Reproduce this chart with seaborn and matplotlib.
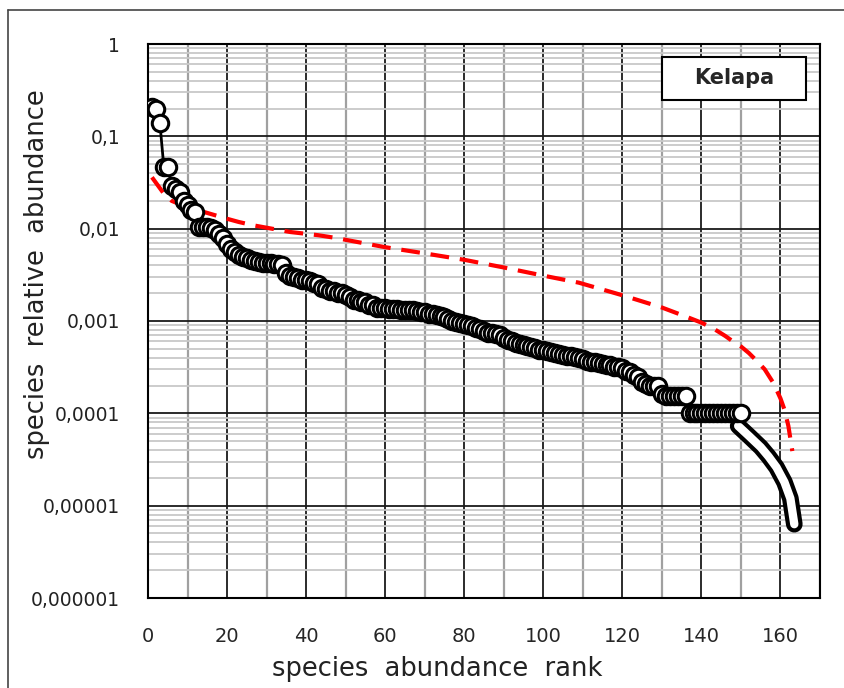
import numpy as np
import pandas as pd
import seaborn as sns
import matplotlib.pyplot as plt
from matplotlib.patches import Rectangle
from matplotlib.lines import Line2D
from matplotlib.ticker import LogLocator, MultipleLocator, NullFormatter

# observed rank-abundance (ranks 1..150)
rank = list(range(1, 151))
abundance = [
    0.21, 0.20, 0.14, 0.047, 0.046, 0.029, 0.027, 0.025, 0.020, 0.018,
    0.016, 0.015, 0.0105, 0.0104, 0.0103, 0.0101, 0.0097, 0.0088, 0.0079, 0.0068,
    0.0060, 0.0056, 0.0052, 0.0049, 0.0048, 0.0046, 0.0045, 0.0044, 0.0043, 0.0042,
    0.0042, 0.0041, 0.0041, 0.0040, 0.0033, 0.0031, 0.0030, 0.0029, 0.0028, 0.0028,
    0.0027, 0.0026, 0.0025, 0.0023, 0.0022, 0.0021, 0.0021, 0.0020, 0.0020, 0.0019,
    0.0018, 0.0017, 0.0017, 0.0016, 0.0016, 0.0015, 0.0015, 0.0014, 0.0014, 0.00138,
    0.00136, 0.00135, 0.00134, 0.00133, 0.00132, 0.00131, 0.0013, 0.00128, 0.00126, 0.00124,
    0.0012, 0.00118, 0.00116, 0.00112, 0.0011, 0.00104, 0.0010, 0.00097, 0.00095, 0.00093,
    0.0009, 0.00088, 0.00085, 0.00082, 0.00078, 0.00075, 0.00074, 0.00072, 0.0007, 0.00066,
    0.00063, 0.0006, 0.00058, 0.00056, 0.00055, 0.00054, 0.00052, 0.00051, 0.00049, 0.00048,
    0.00047, 0.00046, 0.00045, 0.00044, 0.00043, 0.00042, 0.00042, 0.00041, 0.0004, 0.00039,
    0.00037, 0.00036, 0.00036, 0.00035, 0.00034, 0.00033, 0.00033, 0.00032, 0.00032, 0.00031,
    0.00029, 0.00028, 0.00026, 0.00025, 0.00022, 0.00021, 0.0002, 0.0002, 0.0002, 0.00016,
    0.000155, 0.000155, 0.000155, 0.000155, 0.000155, 0.000155, 0.0001, 0.0001, 0.0001, 0.0001,
    0.0001, 0.0001, 0.0001, 0.0001, 0.0001, 0.0001, 0.0001, 0.0001, 0.0001, 0.0001,
]

# rare tail (drawn as a thick outlined line)
tail_rank = [149.3, 152, 155, 157, 159, 161, 162.5, 163.5]
tail_abund = [7.3e-5, 5.7e-5, 4.3e-5, 3.4e-5, 2.6e-5, 1.8e-5, 1.2e-5, 6.3e-6]

# broken-stick expectation (red dashed)
model_rank = [1, 4, 6, 10, 15, 20, 23, 27, 36, 43, 47, 60, 70, 80, 90, 100, 109,
              120, 130, 136, 140, 143, 146, 148, 150, 152, 154, 156, 158, 159,
              160, 161, 162, 163]
model_abund = [0.036, 0.024, 0.020, 0.017, 0.0148, 0.0128, 0.0118, 0.0108, 0.0092,
               0.0085, 0.0080, 0.0063, 0.0054, 0.0046, 0.0038, 0.0031, 0.0026,
               0.0019, 0.0014, 0.00112, 0.00096, 0.00083, 0.00069, 0.0006, 0.00053,
               0.00045, 0.00037, 0.0003, 0.00022, 0.00018, 0.000145, 0.00011,
               0.000073, 0.000039]

ytick_vals = [1e-6, 1e-5, 1e-4, 1e-3, 1e-2, 1e-1, 1]
ytick_labels = ["0,000001", "0,00001", "0,0001", "0,001", "0,01", "0,1", "1"]
xtick_vals = [0, 20, 40, 60, 80, 100, 120, 140, 160]

df = pd.DataFrame({"rank": rank, "abundance": abundance})
tail = pd.DataFrame({"rank": tail_rank, "abundance": tail_abund})
model = pd.DataFrame({"rank": model_rank, "abundance": model_abund})

sns.set_style("white")
plt.rcParams['font.family'] = ['DejaVu Sans']

fig = plt.figure(figsize=(8.44, 6.88), dpi=100)
ax = fig.add_axes([148 / 844, 1 - 598 / 688, 672 / 844, 554 / 688])

ax.set_yscale('log')
ax.set_xlim(0, 170)
ax.set_ylim(1e-6, 1)

# grid
ax.set_xticks(xtick_vals)
ax.xaxis.set_minor_locator(MultipleLocator(10))
ax.set_yticks(ytick_vals)
ax.set_yticklabels(ytick_labels)
ax.yaxis.set_minor_locator(LogLocator(base=10, subs=np.arange(2, 10)))
ax.yaxis.set_minor_formatter(NullFormatter())
ax.grid(which='major', color='#1a1a1a', linewidth=1.3, zorder=0)
ax.grid(which='minor', axis='y', color='#c8c8c8', linewidth=1.3, zorder=0)
ax.grid(which='minor', axis='x', color='#a0a0a0', linewidth=1.6, zorder=0)
ax.set_axisbelow(True)
ax.tick_params(which='both', length=0)
ax.tick_params(axis='y', pad=20, labelsize=13.5, labelcolor='#222222')
ax.tick_params(axis='x', pad=21, labelsize=14)

# tail: white line with a thick black outline
sns.lineplot(data=tail, x="rank", y="abundance", color='black', linewidth=12,
             solid_capstyle='round', sort=False, ax=ax, zorder=3)
sns.lineplot(data=tail, x="rank", y="abundance", color='white', linewidth=6,
             solid_capstyle='round', sort=False, ax=ax, zorder=3.1)

# model
sns.lineplot(data=model, x="rank", y="abundance", color='#ff0000', linewidth=3,
             linestyle=(0, (4.5, 2.6)), sort=False, ax=ax, zorder=3.5)

# observed
sns.lineplot(data=df, x="rank", y="abundance", color='black', linewidth=2,
             sort=False, ax=ax, zorder=3.8)
sns.scatterplot(data=df, x="rank", y="abundance", s=140, facecolor='white',
                edgecolor='black', linewidth=2.2, ax=ax, zorder=4)

for s in ax.spines.values():
    s.set_color('black')
    s.set_linewidth(1.5)

ax.set_xlabel("species  abundance  rank", fontsize=18.5, color='#222222')
ax.xaxis.set_label_coords(0.43, -0.105)
ax.set_ylabel("species  relative  abundance", fontsize=18.5, color='#222222')
ax.yaxis.set_label_coords(-0.146, 0.585)

# site label box
ax.add_patch(Rectangle((0.765, 0.899), 0.214, 0.0776, transform=ax.transAxes,
                       facecolor='white', edgecolor='black', linewidth=1.5, zorder=6))
ax.text(0.872, 0.938, "Kelapa", transform=ax.transAxes, ha='center', va='center',
        fontsize=15, fontweight='bold', zorder=7)

# outer chart frame
fig.add_artist(Line2D([8 / 844, 8 / 844], [0, 1 - 10 / 688], color='#444444', linewidth=1.2))
fig.add_artist(Line2D([8 / 844, 1], [1 - 10 / 688, 1 - 10 / 688], color='#444444', linewidth=1.2))

fig.savefig("out.png", dpi=100)
